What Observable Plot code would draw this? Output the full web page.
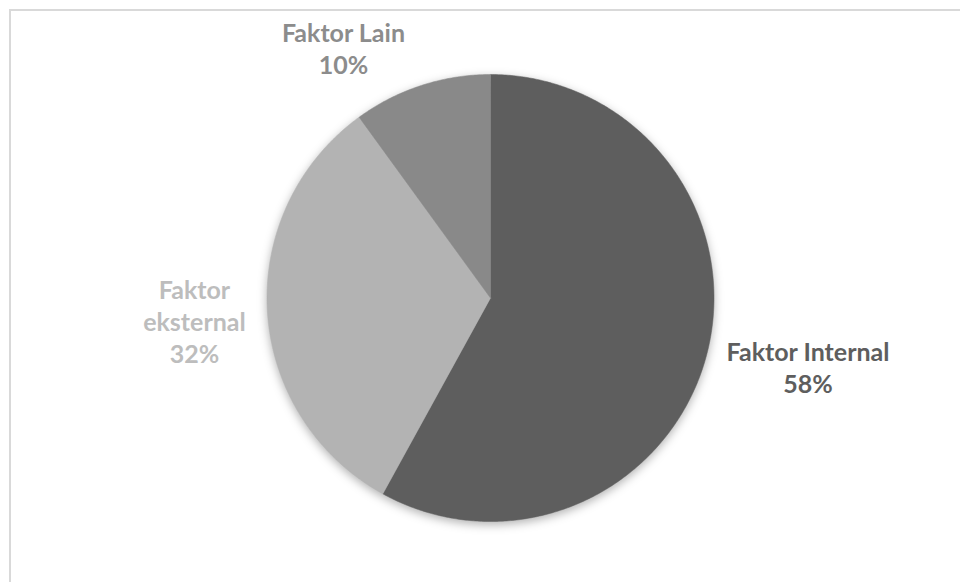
<!DOCTYPE html>
<html>
<head>
<meta charset="utf-8">
<script src="https://cdn.jsdelivr.net/npm/d3@7"></script>
<script src="https://cdn.jsdelivr.net/npm/@observablehq/plot@0.6"></script>
<style>
  html, body { margin: 0; padding: 0; background: #fff; }
  #wrap { position: relative; width: 960px; height: 582px; overflow: hidden; }
  #frame { position: absolute; left: 9px; top: 9px; width: 980px; height: 600px; border: 2px solid #d9d9d9; box-sizing: border-box; }
  #chart { position: absolute; left: 0; top: 0; }
</style>
</head>
<body>
<div id="wrap"><div id="frame"></div><div id="chart"></div></div>
<script>
const categories = ["Faktor Internal", "Faktor eksternal", "Faktor Lain"];
const values = [58, 32, 10];
const labels = ["Faktor Internal\n58%", "Faktor\neksternal\n32%", "Faktor Lain\n10%"];
const sliceColors = ["#5e5e5e", "#b3b3b3", "#898989"];
const labelColors = ["#5e5e5e", "#bdbdbd", "#8c8c8c"];

const arcs = d3.pie().sort(null).value(d => d)(values);

// polygon points for each slice (unit circle, clockwise from 12 o'clock)
const slicePts = [];
arcs.forEach((a, i) => {
  const n = Math.max(2, Math.ceil((a.endAngle - a.startAngle) / (Math.PI / 360)));
  slicePts.push({name: categories[i], x: 0, y: 0});
  for (let k = 0; k <= n; k++) {
    const t = a.startAngle + (a.endAngle - a.startAngle) * k / n;
    slicePts.push({name: categories[i], x: Math.sin(t), y: Math.cos(t)});
  }
  slicePts.push({name: categories[i], x: 0, y: 0});
});

const anchors = arcs.map((a, i) => {
  const m = (a.startAngle + a.endAngle) / 2;
  return {name: categories[i], label: labels[i], x: Math.sin(m), y: Math.cos(m)};
});

const labelOffsets = [[101, 13], [-73, 9], [-78, -38]];

const textMarks = anchors.map((d, i) => Plot.text([d], {
  x: "x", y: "y", text: "label",
  fill: labelColors[i],
  dx: labelOffsets[i][0], dy: labelOffsets[i][1],
  fontSize: 25, fontWeight: "bold", lineHeight: 1.28,
  fontFamily: "Lato", textAnchor: "middle", lineAnchor: "middle"
}));

const plot = Plot.plot({
  width: 960,
  height: 582,
  marginLeft: 266.5,
  marginRight: 246.5,
  marginTop: 74,
  marginBottom: 61,
  x: {domain: [-1, 1], axis: null},
  y: {domain: [-1, 1], axis: null},
  color: {domain: categories, range: sliceColors},
  style: {background: "transparent", overflow: "visible"},
  marks: [
    Plot.line(slicePts, {x: "x", y: "y", z: "name", fill: "name", stroke: "name", strokeWidth: 0.5, curve: "linear"}),
    ...textMarks
  ]
});
document.getElementById("chart").appendChild(plot);
const lineG = plot.querySelector('g[aria-label="line"]');
if (lineG) lineG.style.filter = "drop-shadow(0px 3px 5px rgba(0,0,0,0.3))";
</script>
</body>
</html>
